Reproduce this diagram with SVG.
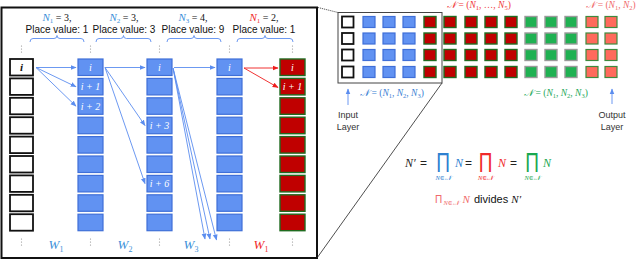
<svg xmlns="http://www.w3.org/2000/svg" width="640" height="260" viewBox="0 0 640 260">
<defs>
<style>
.sans{font-family:"Liberation Sans",Arial,sans-serif;}
.mi{font-family:"Liberation Serif","DejaVu Serif",serif;font-style:italic;}
.mu{font-family:"Liberation Serif","DejaVu Serif",serif;font-style:normal;}
.lab{font-size:10px;fill:#111;}
.wb{fill:#fff;stroke:#111;stroke-width:1.8;}
.bb{fill:#6192f2;stroke:#3f6fd8;stroke-width:1.2;}
.rb{fill:#c00000;stroke:#206b20;stroke-width:1.4;}
.gb{fill:#1fb152;stroke:#9a9a9a;stroke-width:1.4;}
.sb{fill:#ff6a5c;stroke:#3e8a3e;stroke-width:1.2;}
.bt{font-size:10px;fill:#fff;}
.ba{stroke:#5b8def;stroke-width:0.9;fill:none;marker-end:url(#ab);}
.ra{stroke:#ee1c1c;stroke-width:0.9;fill:none;marker-end:url(#ar);}
.dot{fill:#888;}
.blue{fill:#3b8fd9;}
.red{fill:#f02a2a;}
.brace{fill:none;stroke:#5b8def;stroke-width:0.9;}
.pi{font-family:"Liberation Sans",Arial,sans-serif;font-size:19px;}
</style>
<marker id="ab" viewBox="0 0 10 10" refX="9" refY="5" markerWidth="6" markerHeight="6" orient="auto" markerUnits="userSpaceOnUse"><path d="M0,1 L10,5 L0,9 z" fill="#5b8def"/></marker>
<marker id="ar" viewBox="0 0 10 10" refX="9" refY="5" markerWidth="6" markerHeight="6" orient="auto" markerUnits="userSpaceOnUse"><path d="M0,1 L10,5 L0,9 z" fill="#ee1c1c"/></marker>
<g id="vd"><circle cx="0" cy="0" r="0.6"/><circle cx="0" cy="3" r="0.6"/><circle cx="0" cy="6" r="0.6"/></g>
</defs>
<rect x="0" y="0" width="640" height="260" fill="#fff"/>

<!-- left panel -->
<g id="left-panel">
<rect x="1.5" y="7.5" width="315.5" height="250.5" fill="none" stroke="#111" stroke-width="2"/>
</g>

<!-- top labels -->
<g id="labels-top">
<text x="57" y="21" text-anchor="middle" class="lab"><tspan class="mi blue" font-size="11">N</tspan><tspan class="mu blue" font-size="7" dy="2">1</tspan><tspan class="mu" dy="-2"> = 3,</tspan></text>
<text x="57" y="33" text-anchor="middle" class="sans lab">Place value: 1</text>
<path class="brace" d="M30,42 Q30,38.5 33,38.5 L54,38.5 Q57,38.5 57,35.5 Q57,38.5 60,38.5 L81,38.5 Q84,38.5 84,42"/>

<text x="124" y="21" text-anchor="middle" class="lab"><tspan class="mi blue" font-size="11">N</tspan><tspan class="mu blue" font-size="7" dy="2">2</tspan><tspan class="mu" dy="-2"> = 3,</tspan></text>
<text x="124" y="33" text-anchor="middle" class="sans lab">Place value: 3</text>
<path class="brace" d="M96,42 Q96,38.5 99,38.5 L120.5,38.5 Q123.5,38.5 123.5,35.5 Q123.5,38.5 126.5,38.5 L148,38.5 Q151,38.5 151,42"/>

<text x="193" y="21" text-anchor="middle" class="lab"><tspan class="mi blue" font-size="11">N</tspan><tspan class="mu blue" font-size="7" dy="2">3</tspan><tspan class="mu" dy="-2"> = 4,</tspan></text>
<text x="193" y="33" text-anchor="middle" class="sans lab">Place value: 9</text>
<path class="brace" d="M167,42 Q167,38.5 170,38.5 L191,38.5 Q194,38.5 194,35.5 Q194,38.5 197,38.5 L218,38.5 Q221,38.5 221,42"/>

<text x="264" y="21" text-anchor="middle" class="lab"><tspan class="mi red" font-size="11">N</tspan><tspan class="mu red" font-size="7" dy="2">1</tspan><tspan class="mu" dy="-2"> = 2,</tspan></text>
<text x="264" y="33" text-anchor="middle" class="sans lab">Place value: 1</text>
<path class="brace" d="M237,42 Q237,38.5 240,38.5 L262,38.5 Q265,38.5 265,35.5 Q265,38.5 268,38.5 L290,38.5 Q293,38.5 293,42"/>
</g>

<!-- vertical dots -->
<g id="dots" class="dot">
<use href="#vd" x="21.5" y="46"/><use href="#vd" x="90.5" y="46"/><use href="#vd" x="159.5" y="46"/><use href="#vd" x="229.5" y="46"/><use href="#vd" x="292.5" y="46"/>
<use href="#vd" x="21.5" y="239"/><use href="#vd" x="90.5" y="239"/><use href="#vd" x="159.5" y="239"/><use href="#vd" x="229.5" y="239"/><use href="#vd" x="292.5" y="239"/>
</g>

<!-- input column -->
<g id="col-input">
<rect class="wb" x="10" y="59" width="23" height="16.5"/>
<rect class="wb" x="10" y="78.4" width="23" height="16.5"/>
<rect class="wb" x="10" y="97.8" width="23" height="16.5"/>
<rect class="wb" x="10" y="117.2" width="23" height="16.5"/>
<rect class="wb" x="10" y="136.6" width="23" height="16.5"/>
<rect class="wb" x="10" y="156" width="23" height="16.5"/>
<rect class="wb" x="10" y="175.4" width="23" height="16.5"/>
<rect class="wb" x="10" y="194.8" width="23" height="16.5"/>
<rect class="wb" x="10" y="214.2" width="23" height="16.5"/>
<text x="21.5" y="71" text-anchor="middle" class="mi" font-size="11" font-weight="bold" fill="#111">i</text>
</g>

<g id="col-w1">
<rect class="bb" x="78" y="59" width="25" height="16.5"/>
<rect class="bb" x="78" y="78.4" width="25" height="16.5"/>
<rect class="bb" x="78" y="97.8" width="25" height="16.5"/>
<rect class="bb" x="78" y="117.2" width="25" height="16.5"/>
<rect class="bb" x="78" y="136.6" width="25" height="16.5"/>
<rect class="bb" x="78" y="156" width="25" height="16.5"/>
<rect class="bb" x="78" y="175.4" width="25" height="16.5"/>
<rect class="bb" x="78" y="194.8" width="25" height="16.5"/>
<rect class="bb" x="78" y="214.2" width="25" height="16.5"/>
<text x="90.5" y="71" text-anchor="middle" class="mi bt">i</text>
<text x="90.5" y="90.4" text-anchor="middle" class="mi bt">i + 1</text>
<text x="90.5" y="109.8" text-anchor="middle" class="mi bt">i + 2</text>
</g>

<g id="col-w2">
<rect class="bb" x="147" y="59" width="25" height="16.5"/>
<rect class="bb" x="147" y="78.4" width="25" height="16.5"/>
<rect class="bb" x="147" y="97.8" width="25" height="16.5"/>
<rect class="bb" x="147" y="117.2" width="25" height="16.5"/>
<rect class="bb" x="147" y="136.6" width="25" height="16.5"/>
<rect class="bb" x="147" y="156" width="25" height="16.5"/>
<rect class="bb" x="147" y="175.4" width="25" height="16.5"/>
<rect class="bb" x="147" y="194.8" width="25" height="16.5"/>
<rect class="bb" x="147" y="214.2" width="25" height="16.5"/>
<text x="159.5" y="71" text-anchor="middle" class="mi bt">i</text>
<text x="159.5" y="129.2" text-anchor="middle" class="mi bt">i + 3</text>
<text x="159.5" y="187.4" text-anchor="middle" class="mi bt">i + 6</text>
</g>

<g id="col-w3">
<rect class="bb" x="217" y="59" width="25" height="16.5"/>
<rect class="bb" x="217" y="78.4" width="25" height="16.5"/>
<rect class="bb" x="217" y="97.8" width="25" height="16.5"/>
<rect class="bb" x="217" y="117.2" width="25" height="16.5"/>
<rect class="bb" x="217" y="136.6" width="25" height="16.5"/>
<rect class="bb" x="217" y="156" width="25" height="16.5"/>
<rect class="bb" x="217" y="175.4" width="25" height="16.5"/>
<rect class="bb" x="217" y="194.8" width="25" height="16.5"/>
<rect class="bb" x="217" y="214.2" width="25" height="16.5"/>
<text x="229.5" y="71" text-anchor="middle" class="mi bt">i</text>
</g>

<g id="col-out">
<rect class="rb" x="280" y="59" width="25" height="16.5"/>
<rect class="rb" x="280" y="78.4" width="25" height="16.5"/>
<rect class="rb" x="280" y="97.8" width="25" height="16.5"/>
<rect class="rb" x="280" y="117.2" width="25" height="16.5"/>
<rect class="rb" x="280" y="136.6" width="25" height="16.5"/>
<rect class="rb" x="280" y="156" width="25" height="16.5"/>
<rect class="rb" x="280" y="175.4" width="25" height="16.5"/>
<rect class="rb" x="280" y="194.8" width="25" height="16.5"/>
<rect class="rb" x="280" y="214.2" width="25" height="16.5"/>
<text x="292.5" y="71" text-anchor="middle" class="mi bt">i</text>
<text x="292.5" y="90.4" text-anchor="middle" class="mi bt">i + 1</text>
</g>

<!-- bottom labels -->
<g id="labels-bottom">
<text x="56" y="249" text-anchor="middle" class="mi blue" font-size="13">W<tspan class="mu" font-size="8" dy="3">1</tspan></text>
<text x="125" y="249" text-anchor="middle" class="mi blue" font-size="13">W<tspan class="mu" font-size="8" dy="3">2</tspan></text>
<text x="191" y="249" text-anchor="middle" class="mi blue" font-size="13">W<tspan class="mu" font-size="8" dy="3">3</tspan></text>
<text x="261" y="249" text-anchor="middle" class="mi red" font-size="13">W<tspan class="mu" font-size="8" dy="3">1</tspan></text>
</g>

<!-- connectors -->
<g id="connectors">
<line class="ba" x1="36" y1="67.5" x2="76" y2="67.5"/>
<line class="ba" x1="36" y1="67.5" x2="76" y2="86.8"/>
<line class="ba" x1="36" y1="67.5" x2="76" y2="106.2"/>
<line class="ba" x1="105" y1="67.5" x2="145" y2="67.5"/>
<line class="ba" x1="105" y1="67.5" x2="145" y2="125.5"/>
<line class="ba" x1="105" y1="67.5" x2="145" y2="183.6"/>
<line class="ba" x1="174" y1="67.5" x2="215" y2="67.5"/>
<line class="ba" x1="173" y1="68" x2="205" y2="239"/>
<line class="ba" x1="173" y1="68" x2="210" y2="239"/>
<line class="ba" x1="173" y1="68" x2="216.5" y2="240"/>
<line class="ra" x1="244" y1="68" x2="278" y2="68"/>
<line class="ra" x1="244" y1="68" x2="278" y2="87.5"/>
<line x1="318" y1="7.5" x2="338" y2="12.5" stroke="#333" stroke-width="0.8" stroke-dasharray="1.2 0.8"/>
<line x1="317" y1="258" x2="442" y2="83" stroke="#222" stroke-width="0.8"/>
<line class="ba" x1="348" y1="105" x2="348" y2="89"/>
<line class="ba" x1="612" y1="104" x2="612" y2="89"/>
</g>

<!-- right panel: network grid -->
<g id="zoom-box">
<rect x="338" y="12.5" width="104" height="70.5" fill="none" stroke="#444" stroke-width="1"/>
</g>
<g id="grid-input">
<rect class="wb" x="342" y="16.5" width="11.5" height="11" stroke-width="1.3"/>
<rect class="wb" x="342" y="33" width="11.5" height="11" stroke-width="1.3"/>
<rect class="wb" x="342" y="49.5" width="11.5" height="11" stroke-width="1.3"/>
<rect class="wb" x="342" y="66.5" width="11.5" height="11" stroke-width="1.3"/>
</g>
<g id="grid-blue">
<rect class="bb" x="363" y="16.5" width="12" height="11"/><rect class="bb" x="383" y="16.5" width="12" height="11"/><rect class="bb" x="403" y="16.5" width="12" height="11"/>
<rect class="bb" x="363" y="33" width="12" height="11"/><rect class="bb" x="383" y="33" width="12" height="11"/><rect class="bb" x="403" y="33" width="12" height="11"/>
<rect class="bb" x="363" y="49.5" width="12" height="11"/><rect class="bb" x="383" y="49.5" width="12" height="11"/><rect class="bb" x="403" y="49.5" width="12" height="11"/>
<rect class="bb" x="363" y="66.5" width="12" height="11"/><rect class="bb" x="383" y="66.5" width="12" height="11"/><rect class="bb" x="403" y="66.5" width="12" height="11"/>
</g>
<g id="grid-red">
<rect class="rb" x="424" y="16.5" width="12" height="11"/><rect class="rb" x="444" y="16.5" width="12" height="11"/><rect class="rb" x="465" y="16.5" width="12" height="11"/><rect class="rb" x="485" y="16.5" width="12" height="11"/><rect class="rb" x="505" y="16.5" width="12" height="11"/>
<rect class="rb" x="424" y="33" width="12" height="11"/><rect class="rb" x="444" y="33" width="12" height="11"/><rect class="rb" x="465" y="33" width="12" height="11"/><rect class="rb" x="485" y="33" width="12" height="11"/><rect class="rb" x="505" y="33" width="12" height="11"/>
<rect class="rb" x="424" y="49.5" width="12" height="11"/><rect class="rb" x="444" y="49.5" width="12" height="11"/><rect class="rb" x="465" y="49.5" width="12" height="11"/><rect class="rb" x="485" y="49.5" width="12" height="11"/><rect class="rb" x="505" y="49.5" width="12" height="11"/>
<rect class="rb" x="424" y="66.5" width="12" height="11"/><rect class="rb" x="444" y="66.5" width="12" height="11"/><rect class="rb" x="465" y="66.5" width="12" height="11"/><rect class="rb" x="485" y="66.5" width="12" height="11"/><rect class="rb" x="505" y="66.5" width="12" height="11"/>
</g>
<g id="grid-green">
<rect class="gb" x="525" y="16.5" width="12" height="11"/><rect class="gb" x="545" y="16.5" width="12" height="11"/><rect class="gb" x="565" y="16.5" width="12" height="11"/>
<rect class="gb" x="525" y="33" width="12" height="11"/><rect class="gb" x="545" y="33" width="12" height="11"/><rect class="gb" x="565" y="33" width="12" height="11"/>
<rect class="gb" x="525" y="49.5" width="12" height="11"/><rect class="gb" x="545" y="49.5" width="12" height="11"/><rect class="gb" x="565" y="49.5" width="12" height="11"/>
<rect class="gb" x="525" y="66.5" width="12" height="11"/><rect class="gb" x="545" y="66.5" width="12" height="11"/><rect class="gb" x="565" y="66.5" width="12" height="11"/>
</g>
<g id="grid-salmon">
<rect class="sb" x="586" y="16.5" width="12" height="11"/><rect class="sb" x="605" y="16.5" width="12" height="11"/>
<rect class="sb" x="586" y="33" width="12" height="11"/><rect class="sb" x="605" y="33" width="12" height="11"/>
<rect class="sb" x="586" y="49.5" width="12" height="11"/><rect class="sb" x="605" y="49.5" width="12" height="11"/>
<rect class="sb" x="586" y="66.5" width="12" height="11"/><rect class="sb" x="605" y="66.5" width="12" height="11"/>
</g>

<g id="grid-labels">
<text x="479" y="8" text-anchor="middle" class="mi" font-size="9.5" fill="#f03a3a">𝒩 <tspan class="mu">= (</tspan>N<tspan class="mu" font-size="6.5" dy="1.5">1</tspan><tspan class="mu" dy="-1.5">, …, </tspan>N<tspan class="mu" font-size="6.5" dy="1.5">5</tspan><tspan class="mu" dy="-1.5">)</tspan></text>
<text x="611" y="8" text-anchor="middle" class="mi" font-size="9.5" fill="#f06a6a">𝒩 <tspan class="mu">= (</tspan>N<tspan class="mu" font-size="6.5" dy="1.5">1</tspan><tspan class="mu" dy="-1.5">, </tspan>N<tspan class="mu" font-size="6.5" dy="1.5">2</tspan><tspan class="mu" dy="-1.5">)</tspan></text>
<text x="392" y="96" text-anchor="middle" class="mi" font-size="9.5" fill="#3b7fd4">𝒩 <tspan class="mu">= (</tspan>N<tspan class="mu" font-size="6.5" dy="1.5">1</tspan><tspan class="mu" dy="-1.5">, </tspan>N<tspan class="mu" font-size="6.5" dy="1.5">2</tspan><tspan class="mu" dy="-1.5">, </tspan>N<tspan class="mu" font-size="6.5" dy="1.5">3</tspan><tspan class="mu" dy="-1.5">)</tspan></text>
<text x="556" y="96" text-anchor="middle" class="mi" font-size="9.5" fill="#25a85a">𝒩 <tspan class="mu">= (</tspan>N<tspan class="mu" font-size="6.5" dy="1.5">1</tspan><tspan class="mu" dy="-1.5">, </tspan>N<tspan class="mu" font-size="6.5" dy="1.5">2</tspan><tspan class="mu" dy="-1.5">, </tspan>N<tspan class="mu" font-size="6.5" dy="1.5">3</tspan><tspan class="mu" dy="-1.5">)</tspan></text>
<text x="348" y="118" text-anchor="middle" class="sans" font-size="9" fill="#333">Input</text>
<text x="348" y="130" text-anchor="middle" class="sans" font-size="9" fill="#333">Layer</text>
<text x="612" y="118" text-anchor="middle" class="sans" font-size="9" fill="#333">Output</text>
<text x="612" y="130" text-anchor="middle" class="sans" font-size="9" fill="#333">Layer</text>
</g>

<!-- formula -->
<g id="formula">
<text x="405" y="167" class="mi" font-size="12" fill="#222">N′</text>
<text x="420" y="167" class="sans" font-size="12" fill="#222">=</text>
<text transform="translate(443,172) scale(1,1.45)" text-anchor="middle" class="pi" fill="#2e80d0">Π</text>
<text x="443" y="179.5" text-anchor="middle" class="mi" font-size="6.5" fill="#2e80d0">N∈𝒩</text>
<text x="455" y="167" class="mi" font-size="12" fill="#2e80d0">N</text>
<text x="465" y="167" class="sans" font-size="12" fill="#222">=</text>
<text transform="translate(485.5,172) scale(1,1.45)" text-anchor="middle" class="pi" fill="#f02a2a">Π</text>
<text x="485.5" y="179.5" text-anchor="middle" class="mi" font-size="6.5" fill="#f02a2a">N∈𝒩</text>
<text x="498" y="167" class="mi" font-size="12" fill="#f02a2a">N</text>
<text x="510" y="167" class="sans" font-size="12" fill="#222">=</text>
<text transform="translate(532,172) scale(1,1.45)" text-anchor="middle" class="pi" fill="#1aa850">Π</text>
<text x="532" y="179.5" text-anchor="middle" class="mi" font-size="6.5" fill="#1aa850">N∈𝒩</text>
<text x="543" y="167" class="mi" font-size="12" fill="#1aa850">N</text>

<text transform="translate(438.5,203) scale(1,1.15)" text-anchor="middle" class="pi" font-size="10" fill="#f06a6a" style="font-size:10px">Π</text>
<text x="443.5" y="205" class="mi" font-size="6.5" fill="#f06a6a">N∈𝒩</text>
<text x="462.5" y="203" class="mi" font-size="11" fill="#f06a6a">N</text>
<text x="474" y="203" class="sans" font-size="11" fill="#111">divides <tspan class="mi">N′</tspan></text>
</g>
</svg>
